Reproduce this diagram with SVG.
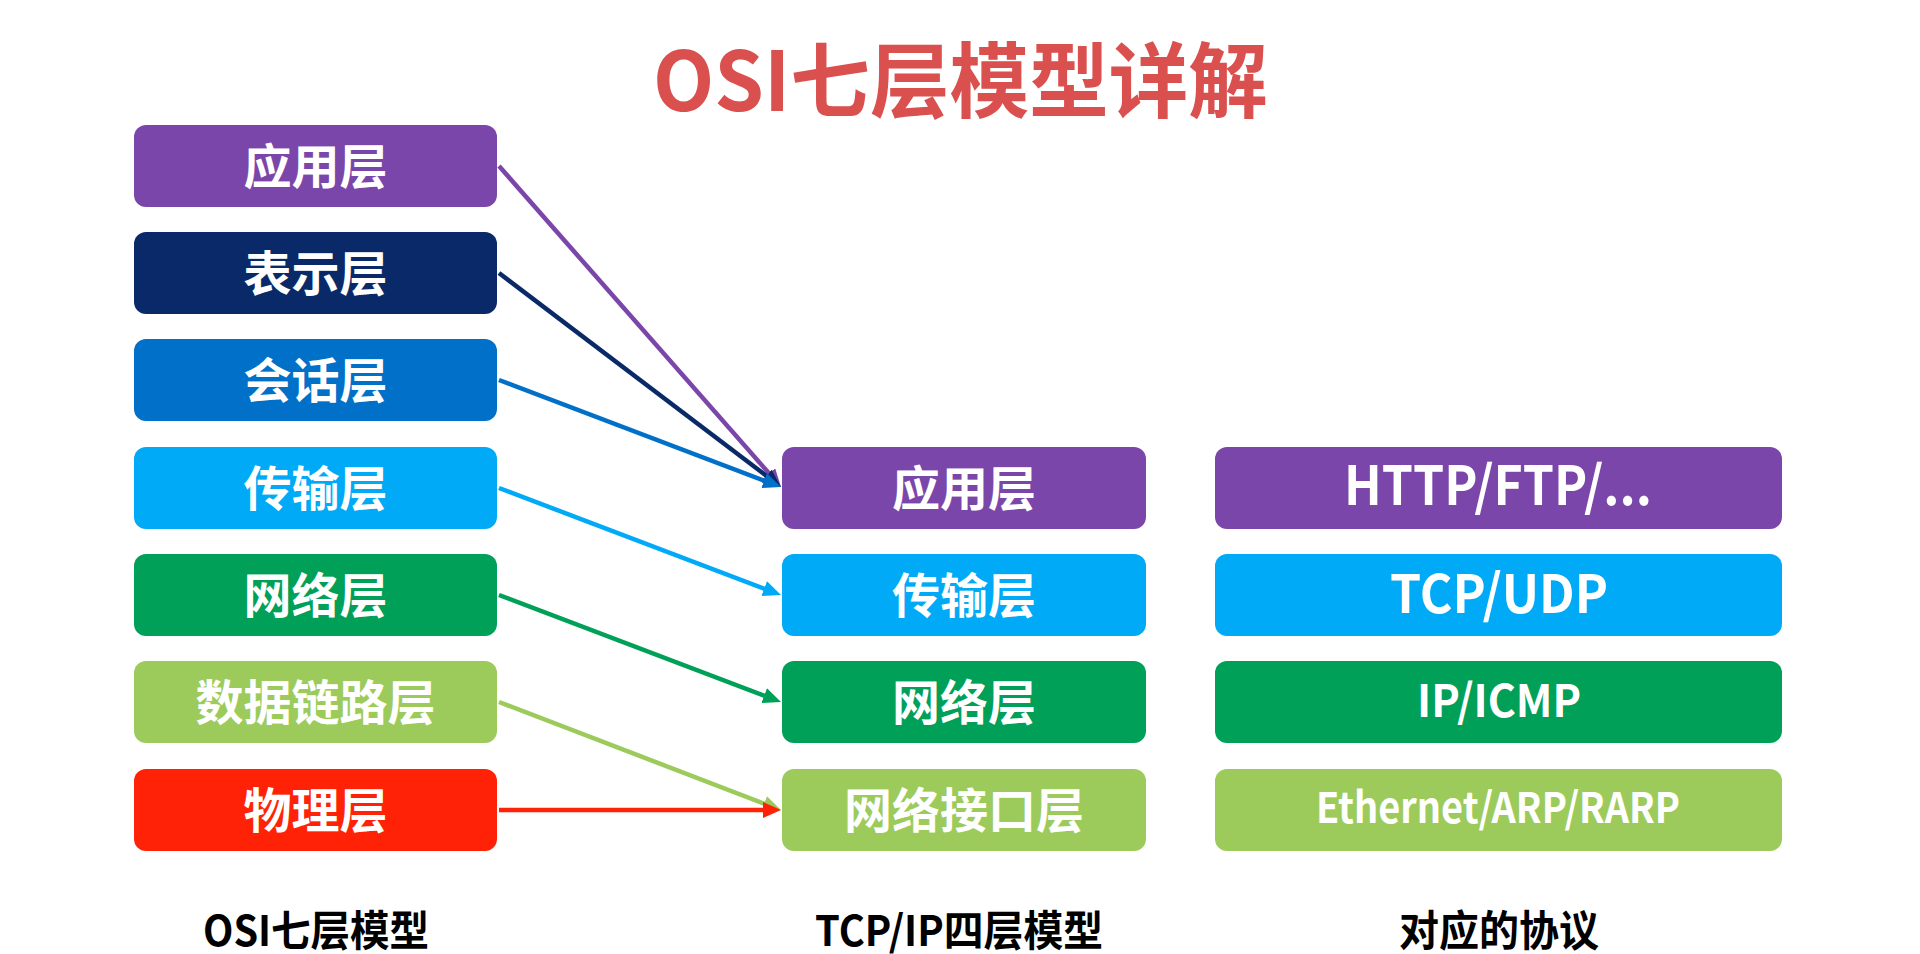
<svg xmlns="http://www.w3.org/2000/svg" width="1920" height="954" viewBox="0 0 1920 954">
  <style>
    .cjk { font-family: "Noto Sans CJK SC", "Noto Sans", sans-serif; font-weight: 700; }
    .box-text { fill: #ffffff; font-size: 48px; text-anchor: middle; }
    .proto-text { fill: #ffffff; text-anchor: middle; }
    .label { fill: #000000; font-size: 42px; text-anchor: middle; }
    .conn { fill: none; stroke-width: 4.5; stroke-linecap: butt; }
    .c-purple { fill: #7b46a9; }
    .c-navy { fill: #0a2968; }
    .c-blue { fill: #0070c8; }
    .c-sky { fill: #00aaf6; }
    .c-green { fill: #00a058; }
    .c-lime { fill: #9ccb5b; }
    .c-red { fill: #ff2206; }
  </style>
  <defs>
    <marker id="ah-purple" viewBox="0 0 18 16" refX="1" refY="8" markerWidth="18" markerHeight="16" markerUnits="userSpaceOnUse" orient="auto"><path d="M0,0 L18,8 L0,16 z" fill="#7b46a9"/></marker>
    <marker id="ah-navy" viewBox="0 0 18 16" refX="1" refY="8" markerWidth="18" markerHeight="16" markerUnits="userSpaceOnUse" orient="auto"><path d="M0,0 L18,8 L0,16 z" fill="#0a2968"/></marker>
    <marker id="ah-blue" viewBox="0 0 18 16" refX="1" refY="8" markerWidth="18" markerHeight="16" markerUnits="userSpaceOnUse" orient="auto"><path d="M0,0 L18,8 L0,16 z" fill="#0070c8"/></marker>
    <marker id="ah-sky" viewBox="0 0 18 16" refX="1" refY="8" markerWidth="18" markerHeight="16" markerUnits="userSpaceOnUse" orient="auto"><path d="M0,0 L18,8 L0,16 z" fill="#00aaf6"/></marker>
    <marker id="ah-green" viewBox="0 0 18 16" refX="1" refY="8" markerWidth="18" markerHeight="16" markerUnits="userSpaceOnUse" orient="auto"><path d="M0,0 L18,8 L0,16 z" fill="#00a058"/></marker>
    <marker id="ah-lime" viewBox="0 0 18 16" refX="1" refY="8" markerWidth="18" markerHeight="16" markerUnits="userSpaceOnUse" orient="auto"><path d="M0,0 L18,8 L0,16 z" fill="#9ccb5b"/></marker>
    <marker id="ah-red" viewBox="0 0 18 16" refX="1" refY="8" markerWidth="18" markerHeight="16" markerUnits="userSpaceOnUse" orient="auto"><path d="M0,0 L18,8 L0,16 z" fill="#ff2206"/></marker>
  </defs>

  <rect x="0" y="0" width="1920" height="954" fill="#ffffff"/>

  <text id="title" class="cjk" x="653" y="111" font-size="82" fill="#d9504f" textLength="615" lengthAdjust="spacingAndGlyphs">OSI七层模型详解</text>

  <!-- OSI seven layers -->
  <g id="osi-app"><rect class="c-purple" x="134" y="125" width="363" height="82" rx="12"/><text class="cjk box-text" x="315.5" y="184">应用层</text></g>
  <g id="osi-pres"><rect class="c-navy" x="134" y="232" width="363" height="82" rx="12"/><text class="cjk box-text" x="315.5" y="291">表示层</text></g>
  <g id="osi-sess"><rect class="c-blue" x="134" y="339" width="363" height="82" rx="12"/><text class="cjk box-text" x="315.5" y="398">会话层</text></g>
  <g id="osi-trans"><rect class="c-sky" x="134" y="447" width="363" height="82" rx="12"/><text class="cjk box-text" x="315.5" y="506">传输层</text></g>
  <g id="osi-net"><rect class="c-green" x="134" y="554" width="363" height="82" rx="12"/><text class="cjk box-text" x="315.5" y="613">网络层</text></g>
  <g id="osi-link"><rect class="c-lime" x="134" y="661" width="363" height="82" rx="12"/><text class="cjk box-text" x="315.5" y="720">数据链路层</text></g>
  <g id="osi-phys"><rect class="c-red" x="134" y="769" width="363" height="82" rx="12"/><text class="cjk box-text" x="315.5" y="828">物理层</text></g>

  <!-- TCP/IP four layers -->
  <g id="tcp-app"><rect class="c-purple" x="782" y="447" width="364" height="82" rx="12"/><text class="cjk box-text" x="964" y="506">应用层</text></g>
  <g id="tcp-trans"><rect class="c-sky" x="782" y="554" width="364" height="82" rx="12"/><text class="cjk box-text" x="964" y="613">传输层</text></g>
  <g id="tcp-net"><rect class="c-green" x="782" y="661" width="364" height="82" rx="12"/><text class="cjk box-text" x="964" y="720">网络层</text></g>
  <g id="tcp-if"><rect class="c-lime" x="782" y="769" width="364" height="82" rx="12"/><text class="cjk box-text" x="964" y="828">网络接口层</text></g>

  <!-- Protocols -->
  <g id="proto-app"><rect class="c-purple" x="1215" y="447" width="567" height="82" rx="12"/><text class="cjk proto-text" x="1498" y="505" font-size="54" textLength="308" lengthAdjust="spacingAndGlyphs">HTTP/FTP/...</text></g>
  <g id="proto-trans"><rect class="c-sky" x="1215" y="554" width="567" height="82" rx="12"/><text class="cjk proto-text" x="1499" y="613" font-size="53" textLength="218" lengthAdjust="spacingAndGlyphs">TCP/UDP</text></g>
  <g id="proto-net"><rect class="c-green" x="1215" y="661" width="567" height="82" rx="12"/><text class="cjk proto-text" x="1499" y="717" font-size="45" textLength="164" lengthAdjust="spacingAndGlyphs">IP/ICMP</text></g>
  <g id="proto-link"><rect class="c-lime" x="1215" y="769" width="567" height="82" rx="12"/><text class="cjk proto-text" x="1498" y="823" font-size="42" textLength="364" lengthAdjust="spacingAndGlyphs">Ethernet/ARP/RARP</text></g>

  <!-- Connectors -->
  <g id="connectors" class="conn">
    <line x1="499" y1="166" x2="769.8" y2="474.2" stroke="#7b46a9" marker-end="url(#ah-purple)"/>
    <line x1="499" y1="273" x2="767.5" y2="476.7" stroke="#0a2968" marker-end="url(#ah-navy)"/>
    <line x1="499" y1="380" x2="765.1" y2="481.0" stroke="#0070c8" marker-end="url(#ah-blue)"/>
    <line x1="499" y1="488" x2="765.1" y2="589.0" stroke="#00aaf6" marker-end="url(#ah-sky)"/>
    <line x1="499" y1="595" x2="765.1" y2="696.0" stroke="#00a058" marker-end="url(#ah-green)"/>
    <line x1="499" y1="702" x2="765.1" y2="804.0" stroke="#9ccb5b" marker-end="url(#ah-lime)"/>
    <line x1="499" y1="810" x2="764" y2="810" stroke="#ff2206" marker-end="url(#ah-red)"/>
  </g>

  <!-- Column labels -->
  <text id="label-osi" class="cjk label" x="316" y="946" textLength="226" lengthAdjust="spacingAndGlyphs">OSI七层模型</text>
  <text id="label-tcpip" class="cjk label" x="959" y="946" textLength="288" lengthAdjust="spacingAndGlyphs">TCP/IP四层模型</text>
  <text id="label-proto" class="cjk label" x="1499" y="946" textLength="200" lengthAdjust="spacingAndGlyphs">对应的协议</text>
</svg>
